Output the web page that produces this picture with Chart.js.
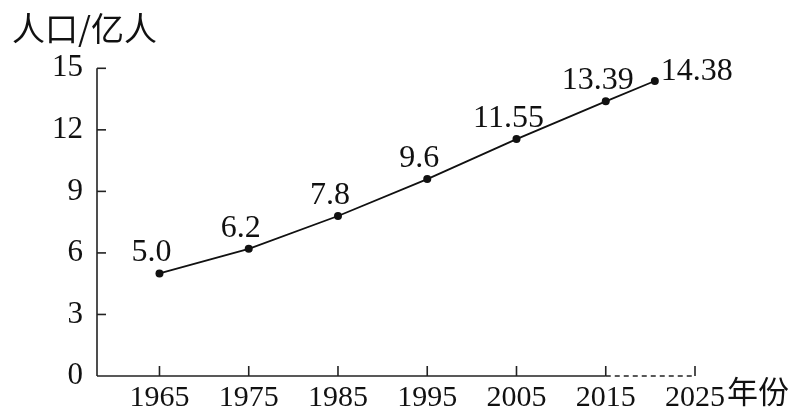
<!DOCTYPE html>
<html>
<head>
<meta charset="utf-8">
<script src="https://cdn.jsdelivr.net/npm/chart.js@4.4.0/dist/chart.umd.min.js"></script>
<style>
html,body{margin:0;padding:0;background:#fff;}
#wrap{width:790px;height:414px;position:relative;}
</style>
</head>
<body>
<div id="wrap"><canvas id="c"></canvas></div>
<script>
const years = [1965, 1975, 1985, 1995, 2005, 2015, 2020.5];
const population = [5.0, 6.2, 7.8, 9.6, 11.55, 13.39, 14.38];
const valueLabels = ['5.0', '6.2', '7.8', '9.6', '11.55', '13.39', '14.38'];
const xTickYears = [1965, 1975, 1985, 1995, 2005, 2015, 2025];
const yTickValues = [0, 3, 6, 9, 12, 15];
const solidAxisEnd = 2015;
const yTitle = '人口/亿人';
const xUnit = '年份';

const SERIF = '"Liberation Serif", "DejaVu Serif", serif';
const CJK = '"Noto Sans CJK SC", "Noto Sans", sans-serif';

const axesPlugin = {
  id: 'axesPlugin',
  beforeDatasetsDraw(chart) {
    const ctx = chart.ctx;
    const xs = chart.scales.x, ys = chart.scales.y;
    const y0 = ys.getPixelForValue(0);
    const x0 = chart.chartArea.left;
    ctx.save();
    ctx.strokeStyle = '#222';
    ctx.lineWidth = 1.6;
    ctx.beginPath();
    ctx.moveTo(x0, ys.getPixelForValue(yTickValues[yTickValues.length - 1]));
    ctx.lineTo(x0, y0);
    ctx.stroke();
    yTickValues.forEach(v => {
      if (v === 0) return;
      const py = ys.getPixelForValue(v);
      ctx.beginPath();
      ctx.moveTo(x0, py);
      ctx.lineTo(x0 + 9, py);
      ctx.stroke();
    });
    const xs2015 = xs.getPixelForValue(solidAxisEnd);
    ctx.beginPath();
    ctx.moveTo(x0, y0);
    ctx.lineTo(xs2015, y0);
    ctx.stroke();
    const xEnd = xs.getPixelForValue(xTickYears[xTickYears.length - 1]);
    ctx.setLineDash([5, 4]);
    ctx.beginPath();
    ctx.moveTo(xs2015, y0);
    ctx.lineTo(xEnd, y0);
    ctx.stroke();
    ctx.setLineDash([]);
    xTickYears.forEach(v => {
      const px = xs.getPixelForValue(v);
      ctx.beginPath();
      ctx.moveTo(px, y0);
      ctx.lineTo(px, y0 - 10);
      ctx.stroke();
    });
    ctx.restore();
  },
  afterDatasetsDraw(chart) {
    const ctx = chart.ctx;
    const meta = chart.getDatasetMeta(0);
    const xs = chart.scales.x, ys = chart.scales.y;
    ctx.save();
    ctx.fillStyle = '#111';
    ctx.font = '32px ' + SERIF;
    meta.data.forEach((pt, i) => {
      const last = i === meta.data.length - 1;
      ctx.textBaseline = 'alphabetic';
      if (last) {
        ctx.textAlign = 'left';
        ctx.fillText(valueLabels[i], pt.x + 6, pt.y - 1);
      } else {
        ctx.textAlign = 'center';
        ctx.fillText(valueLabels[i], pt.x - 8, pt.y - 12);
      }
    });
    ctx.font = '31px ' + CJK;
    ctx.textAlign = 'left';
    ctx.textBaseline = 'top';
    const xEnd = xs.getPixelForValue(xTickYears[xTickYears.length - 1]);
    ctx.fillText(xUnit, xEnd + 32, ys.getPixelForValue(0) + 0);
    ctx.restore();
  }
};

new Chart(document.getElementById('c'), {
  type: 'line',
  data: {
    datasets: [{
      data: years.map((y, i) => ({ x: y, y: population[i] })),
      borderColor: '#111',
      backgroundColor: '#111',
      borderWidth: 1.8,
      pointRadius: 4,
      pointBackgroundColor: '#111',
      pointBorderWidth: 0,
      tension: 0,
      fill: false
    }]
  },
  options: {
    responsive: true,
    maintainAspectRatio: false,
    animation: false,
    layout: { padding: { left: 12, right: 95, top: 0, bottom: 0 } },
    plugins: {
      legend: { display: false },
      tooltip: { enabled: false },
      title: {
        display: true,
        text: yTitle,
        align: 'start',
        color: '#111',
        font: { family: CJK, size: 33, weight: 'normal', lineHeight: 1.1 },
        padding: { top: 10, bottom: 22 }
      }
    },
    scales: {
      x: {
        type: 'linear',
        min: 1958,
        max: 2025,
        grid: { display: false, drawTicks: false },
        border: { display: false },
        afterBuildTicks(scale) { scale.ticks = xTickYears.map(v => ({ value: v })); },
        afterFit(scale) { scale.height = 38; },
        ticks: {
          autoSkip: false,
          maxRotation: 0,
          padding: 4,
          color: '#111',
          font: { family: SERIF, size: 30 },
          callback: v => String(v)
        }
      },
      y: {
        min: 0,
        max: 15,
        grid: { display: false, drawTicks: false },
        border: { display: false },
        afterBuildTicks(scale) { scale.ticks = yTickValues.map(v => ({ value: v })); },
        afterFit(scale) { scale.width = 85; },
        ticks: {
          padding: 14,
          color: '#111',
          font: { family: SERIF, size: 31 },
          callback: v => String(v)
        }
      }
    }
  },
  plugins: [axesPlugin]
});
</script>
</body>
</html>
